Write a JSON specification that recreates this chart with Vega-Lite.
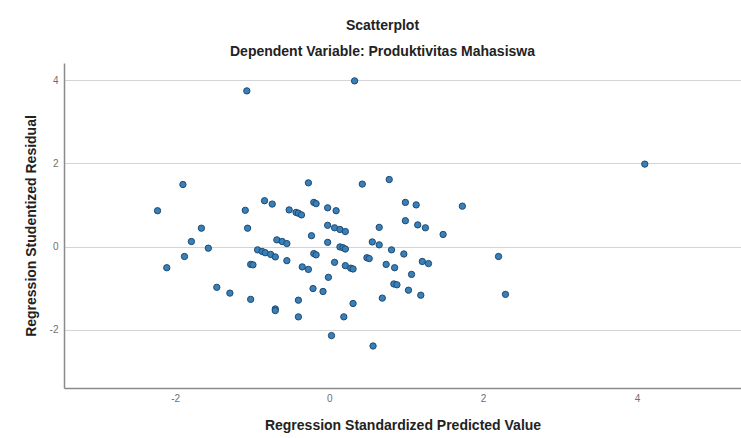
{
  "$schema": "https://vega.github.io/schema/vega-lite/v6.json",
  "width": 677,
  "height": 325,
  "autosize": {"type": "none"},
  "padding": {"left": 64, "top": 63, "right": 0, "bottom": 50},
  "background": "white",
  "config": {
    "view": {"stroke": null},
    "font": "Liberation Sans"
  },
  "title": {
    "text": "Scatterplot",
    "subtitle": "Dependent Variable: Produktivitas Mahasiswa",
    "anchor": "middle",
    "dx": -20,
    "fontSize": 14,
    "fontWeight": "bold",
    "color": "#222222",
    "subtitleFontSize": 14,
    "subtitleFontWeight": "bold",
    "subtitleColor": "#222222",
    "subtitlePadding": 12,
    "offset": 4
  },
  "data": {
    "values": [
      {"x": -2.23, "y": 0.86}, {"x": -1.90, "y": 1.49}, {"x": -1.66, "y": 0.44},
      {"x": -1.79, "y": 0.12}, {"x": -1.57, "y": -0.04}, {"x": -1.88, "y": -0.24},
      {"x": -2.11, "y": -0.51}, {"x": -1.46, "y": -0.98}, {"x": -1.29, "y": -1.12},
      {"x": -1.09, "y": 0.87}, {"x": -1.06, "y": 0.44}, {"x": -0.84, "y": 1.10},
      {"x": -0.74, "y": 1.02}, {"x": -0.27, "y": 1.53}, {"x": -0.52, "y": 0.88},
      {"x": -0.43, "y": 0.82}, {"x": -0.40, "y": 0.80}, {"x": -0.36, "y": 0.76},
      {"x": -0.20, "y": 1.06}, {"x": -0.17, "y": 1.03}, {"x": -0.02, "y": 0.93},
      {"x": 0.09, "y": 0.86}, {"x": -0.23, "y": 0.26}, {"x": -0.02, "y": 0.51},
      {"x": 0.07, "y": 0.45}, {"x": 0.14, "y": 0.41}, {"x": 0.21, "y": 0.36},
      {"x": -0.68, "y": 0.16}, {"x": -0.61, "y": 0.12}, {"x": -0.55, "y": 0.07},
      {"x": -0.02, "y": 0.10}, {"x": -0.93, "y": -0.08}, {"x": -0.87, "y": -0.12},
      {"x": -0.83, "y": -0.15}, {"x": -0.76, "y": -0.19}, {"x": -0.70, "y": -0.25},
      {"x": -0.20, "y": -0.17}, {"x": -0.17, "y": -0.20}, {"x": -1.02, "y": -0.43},
      {"x": -0.99, "y": -0.44}, {"x": -0.55, "y": -0.34}, {"x": -0.35, "y": -0.49},
      {"x": -0.27, "y": -0.55}, {"x": 0.07, "y": -0.38}, {"x": -0.01, "y": -0.74},
      {"x": -0.21, "y": -1.01}, {"x": -0.08, "y": -1.08}, {"x": -1.02, "y": -1.27},
      {"x": -0.70, "y": -1.50}, {"x": -0.70, "y": -1.54}, {"x": -0.40, "y": -1.29},
      {"x": -0.40, "y": -1.69}, {"x": 0.03, "y": -2.14}, {"x": 0.14, "y": -0.01},
      {"x": 0.18, "y": -0.03}, {"x": 0.21, "y": -0.06}, {"x": 0.43, "y": 1.50},
      {"x": 0.78, "y": 1.61}, {"x": 0.99, "y": 1.06}, {"x": 1.13, "y": 1.00},
      {"x": 0.99, "y": 0.62}, {"x": 1.15, "y": 0.52}, {"x": 1.25, "y": 0.45},
      {"x": 0.65, "y": 0.46}, {"x": 0.56, "y": 0.11}, {"x": 0.65, "y": 0.04},
      {"x": 0.81, "y": -0.08}, {"x": 0.97, "y": -0.18}, {"x": 0.49, "y": -0.27},
      {"x": 0.52, "y": -0.29}, {"x": 0.21, "y": -0.46}, {"x": 0.28, "y": -0.52},
      {"x": 0.31, "y": -0.54}, {"x": 0.74, "y": -0.43}, {"x": 0.85, "y": -0.51},
      {"x": 1.21, "y": -0.36}, {"x": 1.29, "y": -0.41}, {"x": 1.07, "y": -0.67},
      {"x": 0.84, "y": -0.90}, {"x": 0.88, "y": -0.92}, {"x": 1.03, "y": -1.05},
      {"x": 1.19, "y": -1.17}, {"x": 0.69, "y": -1.24}, {"x": 0.31, "y": -1.37},
      {"x": 0.19, "y": -1.69}, {"x": 0.57, "y": -2.39}, {"x": 1.73, "y": 0.97},
      {"x": 1.48, "y": 0.29}, {"x": 2.20, "y": -0.24}, {"x": 2.29, "y": -1.15},
      {"x": -1.07, "y": 3.74}, {"x": 0.33, "y": 3.98}, {"x": 4.10, "y": 1.98}
    ]
  },
  "mark": {
    "type": "point",
    "shape": "circle",
    "filled": true,
    "size": 40,
    "fill": "#3a80b8",
    "stroke": "#1d4a72",
    "strokeWidth": 1,
    "opacity": 1
  },
  "encoding": {
    "x": {
      "field": "x",
      "type": "quantitative",
      "scale": {"domain": [-3.445, 5.35], "nice": false, "zero": false},
      "axis": {
        "title": "Regression Standardized Predicted Value",
        "values": [-2, 0, 2, 4],
        "labelExpr": "'' + datum.value",
        "grid": false,
        "ticks": false,
        "domainColor": "#8a8a8a",
        "domainWidth": 1.5,
        "labelFontSize": 10,
        "labelColor": "#707070",
        "labelPadding": 5,
        "titleFontSize": 14,
        "titleFontWeight": "bold",
        "titleColor": "#222222",
        "titlePadding": 15
      }
    },
    "y": {
      "field": "y",
      "type": "quantitative",
      "scale": {"domain": [-3.40, 4.41], "nice": false, "zero": false},
      "axis": {
        "title": "Regression Studentized Residual",
        "values": [-2, 0, 2, 4],
        "labelExpr": "'' + datum.value",
        "grid": true,
        "gridColor": "#d4d4d4",
        "gridWidth": 1,
        "ticks": false,
        "domainColor": "#8a8a8a",
        "domainWidth": 1.5,
        "labelFontSize": 10,
        "labelColor": "#707070",
        "labelPadding": 6,
        "titleFontSize": 14,
        "titleFontWeight": "bold",
        "titleColor": "#222222",
        "titlePadding": 11
      }
    }
  }
}
